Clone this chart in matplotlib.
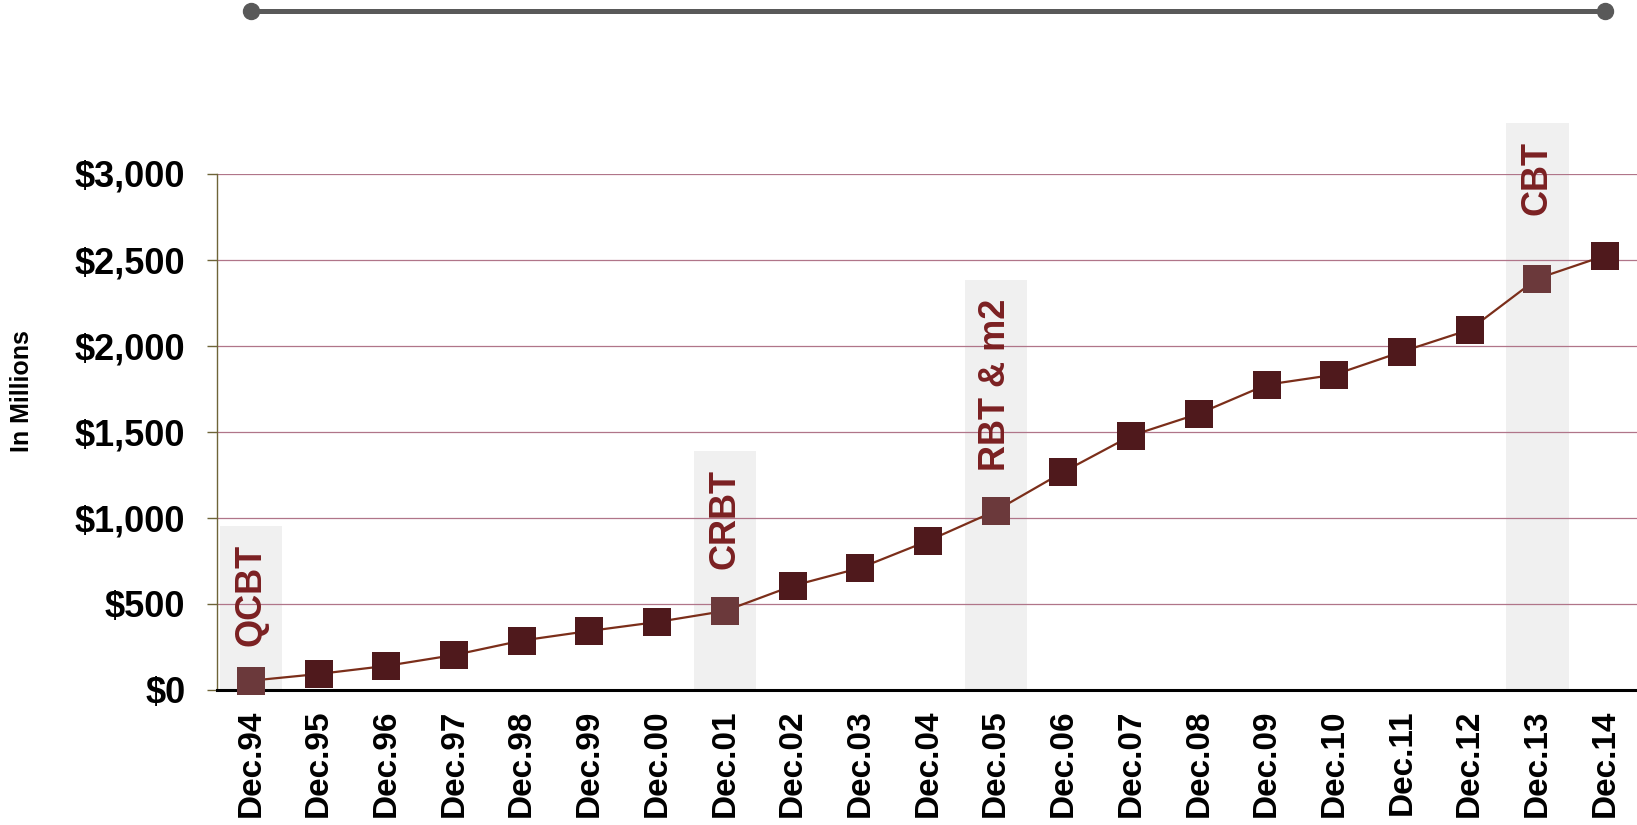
import matplotlib.pyplot as plt
import matplotlib.transforms as mtransforms
from matplotlib.ticker import FuncFormatter

# year-end totals, in millions
periods = ['Dec.94', 'Dec.95', 'Dec.96', 'Dec.97', 'Dec.98', 'Dec.99', 'Dec.00',
           'Dec.01', 'Dec.02', 'Dec.03', 'Dec.04', 'Dec.05', 'Dec.06', 'Dec.07',
           'Dec.08', 'Dec.09', 'Dec.10', 'Dec.11', 'Dec.12', 'Dec.13', 'Dec.14']
totals = [54, 93, 140, 203, 287, 343, 395, 459, 605, 709, 866, 1041, 1267,
          1477, 1605, 1773, 1831, 1965, 2093, 2390, 2523]

# milestones: which period, label, height of the shaded band
event_periods = ['Dec.94', 'Dec.01', 'Dec.05', 'Dec.13']
event_labels = ['QCBT', 'CRBT', 'RBT & m2', 'CBT']
event_band_tops = [953, 1390, 2380, 3291]

yticks = [0, 500, 1000, 1500, 2000, 2500, 3000]

W, H = 1637, 825
fig = plt.figure(figsize=(W / 100, H / 100), dpi=100)
plt.rcParams['font.family'] = ['Liberation Sans', 'DejaVu Sans']
plt.rcParams['font.weight'] = 'bold'

ax = fig.add_axes([217 / W, 1 - 690 / H, (1639 - 217) / W, (690 - 173.5) / H])

x = list(range(len(periods)))
event_idx = [periods.index(p) for p in event_periods]

# shaded bands behind each milestone
ax.bar(event_idx, event_band_tops, width=0.92, color='#F0F0F0', zorder=0.2,
       clip_on=False)
for i, lab, top in zip(event_idx, event_labels, event_band_tops):
    ax.annotate(lab, xy=(i, top), xytext=(0, -13), textcoords='offset points',
                rotation=90, ha='center', va='top', fontsize=26,
                fontweight='bold', color='#7B2022', zorder=3,
                annotation_clip=False)

ax.plot(x, totals, color='#7B2E1A', linewidth=1.6, zorder=2)
normal = [i for i in x if i not in event_idx]
ax.plot(normal, [totals[i] for i in normal], linestyle='none', marker='s',
        markersize=20, color='#4F191C', markeredgewidth=0, zorder=4,
        clip_on=False)
ax.plot(event_idx, [totals[i] for i in event_idx], linestyle='none', marker='s',
        markersize=20, color='#6B393B', markeredgewidth=0, zorder=4,
        clip_on=False)

ax.set_xlim(-0.5, len(periods) - 0.5)
ax.set_ylim(0, 3000)
ax.set_yticks(yticks)
ax.yaxis.set_major_formatter(FuncFormatter(lambda v, pos: f'${v:,.0f}'))
ax.set_xticks(x)
ax.set_xticklabels(periods, rotation=90, fontsize=24, fontweight='bold')
ax.tick_params(axis='x', length=0, pad=14)
ax.tick_params(axis='y', length=7.2, width=1, color='#6E6438', pad=15.5,
               labelsize=26)
for t in ax.get_yticklabels():
    t.set_fontweight('bold')

ax.set_axisbelow(True)
ax.grid(axis='y', color='#B07589', linewidth=0.9)
ax.spines['top'].set_visible(False)
ax.spines['right'].set_visible(False)
ax.spines['left'].set_color('#6E6438')
ax.spines['left'].set_linewidth(1)
ax.spines['bottom'].set_color('black')
ax.spines['bottom'].set_linewidth(2.2)
ax.spines['bottom'].set_zorder(3)

fig.text(22 / W, 1 - 391 / H, 'In Millions', rotation=90, ha='center',
         va='center', fontsize=18, fontweight='bold')

# timeline bar spanning the first to the last period
trans = mtransforms.blended_transform_factory(ax.transData, fig.transFigure)
ax.plot([0, len(periods) - 1], [1 - 10.5 / H] * 2, transform=trans,
        color='#595959', linewidth=3.6, marker='o', markersize=11.5,
        clip_on=False, solid_capstyle='butt')

fig.savefig('out.png', dpi=100)
